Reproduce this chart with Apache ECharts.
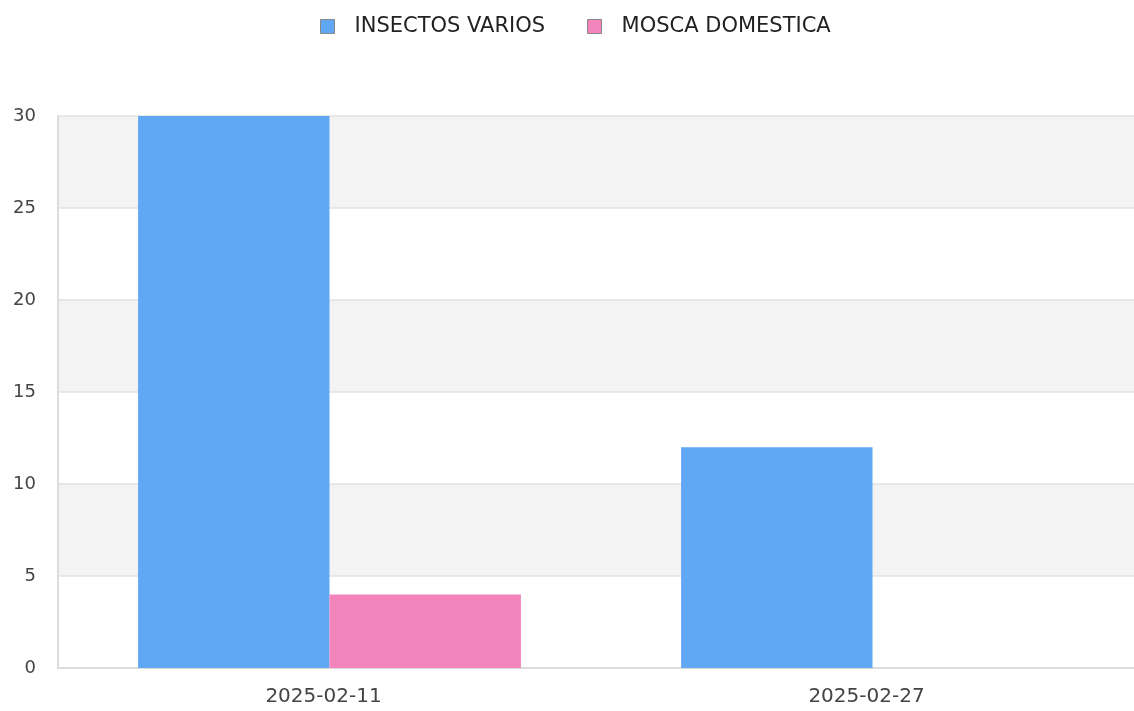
<!DOCTYPE html>
<html>
<head>
<meta charset="utf-8">
<script src="https://cdn.jsdelivr.net/npm/echarts@6/dist/echarts.min.js"></script>
<style>html,body{margin:0;padding:0;background:#fff;}#c{width:1134px;height:711px;}</style>
</head>
<body>
<div id="c"></div>
<script>
const categories = ['2025-02-11', '2025-02-27'];
const seriesNames = ['INSECTOS VARIOS', 'MOSCA DOMESTICA'];
const insectosVarios = [30, 12];
const moscaDomestica = [4, 0];
const yTicks = { min: 0, max: 30, interval: 5 };

const chart = echarts.init(document.getElementById('c'));
chart.setOption({
  animation: false,
  textStyle: { fontFamily: 'DejaVu Sans' },
  legend: {
    top: 11,
    left: 315,
    itemWidth: 14,
    itemHeight: 14,
    itemGap: 42,
    icon: 'rect',
    itemStyle: { borderColor: '#888', borderWidth: 1 },
    textStyle: { fontSize: 21, color: '#222', fontFamily: 'DejaVu Sans', padding: [0, 0, 0, 15] },
    data: seriesNames
  },
  grid: { left: 58, width: 1086, top: 116, bottom: 43, containLabel: false, outerBoundsMode: 'none' },
  xAxis: {
    type: 'category',
    data: categories,
    axisLine: { lineStyle: { color: '#dcdcdc', width: 2 } },
    axisTick: { show: false },
    axisLabel: { fontSize: 20, color: '#444', margin: 19, padding: [0, 12, 0, 0] }
  },
  yAxis: {
    type: 'value',
    min: yTicks.min, max: yTicks.max, interval: yTicks.interval,
    axisLine: { show: true, lineStyle: { color: '#dcdcdc', width: 2 } },
    axisTick: { show: false },
    axisLabel: { fontSize: 18, color: '#444', margin: 22 },
    splitLine: { lineStyle: { color: '#e2e2e2', width: 1.5 } },
    splitArea: { show: true, areaStyle: { color: ['#ffffff', '#f3f3f3'] } }
  },
  series: [
    {
      name: seriesNames[0], type: 'bar', data: insectosVarios,
      barGap: '0%', barCategoryGap: '29.5%',
      itemStyle: { color: '#61a8f4' }
    },
    {
      name: seriesNames[1], type: 'bar', data: moscaDomestica,
      itemStyle: { color: '#f283bb' }
    }
  ]
});
</script>
</body>
</html>
